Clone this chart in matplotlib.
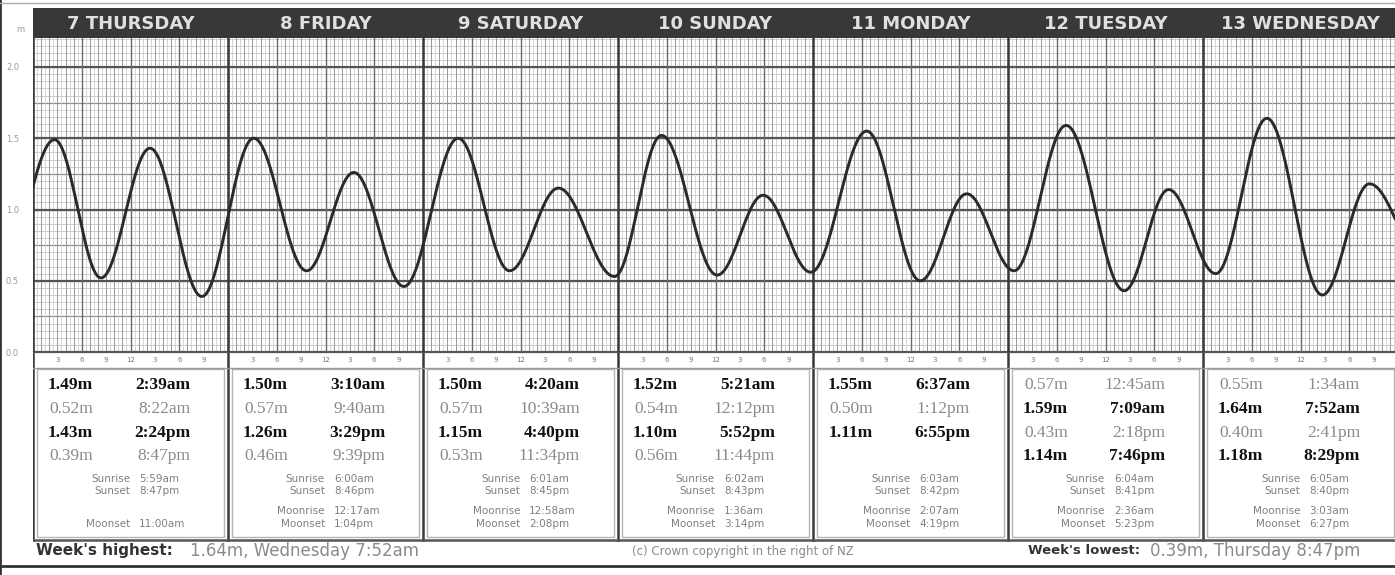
import numpy as np
import matplotlib
matplotlib.use('Agg')
import matplotlib.pyplot as plt
from matplotlib.patches import Rectangle
from matplotlib.lines import Line2D

W, H = 1395, 575
DAY_PX = 195.0          # width of one day in pixels
X0 = 33                 # left edge of the chart
M_PX = 142.5            # pixels per metre

days = ['7 THURSDAY', '8 FRIDAY', '9 SATURDAY', '10 SUNDAY',
        '11 MONDAY', '12 TUESDAY', '13 WEDNESDAY']
tide_heights = [
    [1.49, 0.52, 1.43, 0.39],
    [1.50, 0.57, 1.26, 0.46],
    [1.50, 0.57, 1.15, 0.53],
    [1.52, 0.54, 1.10, 0.56],
    [1.55, 0.50, 1.11],
    [0.57, 1.59, 0.43, 1.14],
    [0.55, 1.64, 0.40, 1.18],
]
tide_times = [
    ['2:39am', '8:22am', '2:24pm', '8:47pm'],
    ['3:10am', '9:40am', '3:29pm', '9:39pm'],
    ['4:20am', '10:39am', '4:40pm', '11:34pm'],
    ['5:21am', '12:12pm', '5:52pm', '11:44pm'],
    ['6:37am', '1:12pm', '6:55pm'],
    ['12:45am', '7:09am', '2:18pm', '7:46pm'],
    ['1:34am', '7:52am', '2:41pm', '8:29pm'],
]
# tides just before / after the week so the curve reaches both edges
prev_tide = (-1, '7:30pm', 0.40)
next_tide = (7, '3:30am', 0.60)

sunrise = ['5:59am', '6:00am', '6:01am', '6:02am', '6:03am', '6:04am', '6:05am']
sunset = ['8:47pm', '8:46pm', '8:45pm', '8:43pm', '8:42pm', '8:41pm', '8:40pm']
moonrise = ['', '12:17am', '12:58am', '1:36am', '2:07am', '2:36am', '3:03am']
moonset = ['11:00am', '1:04pm', '2:08pm', '3:14pm', '4:19pm', '5:23pm', '6:27pm']

y_ticks = [0.0, 0.5, 1.0, 1.5, 2.0]
copyright_txt = '(c) Crown copyright in the right of NZ'


def to_hours(s):
    hh, rest = s.split(':')
    return int(hh) % 12 + (12 if rest.endswith('pm') else 0) + int(rest[:2]) / 60.0


# event list in hours from Thursday 00:00
ev_t = [prev_tide[0] * 24 + to_hours(prev_tide[1])]
ev_h = [prev_tide[2]]
for d in range(len(days)):
    for tm, hg in zip(tide_times[d], tide_heights[d]):
        ev_t.append(d * 24 + to_hours(tm))
        ev_h.append(hg)
ev_t.append(next_tide[0] * 24 + to_hours(next_tide[1]))
ev_h.append(next_tide[2])
ev_t = np.array(ev_t)
ev_h = np.array(ev_h)

xmax = (W - X0) / DAY_PX * 24
ymax = (352 - 38) / M_PX
t = np.linspace(0, xmax, 4000)
idx = np.clip(np.searchsorted(ev_t, t) - 1, 0, len(ev_t) - 2)
frac = (t - ev_t[idx]) / (ev_t[idx + 1] - ev_t[idx])
curve = ev_h[idx] + (ev_h[idx + 1] - ev_h[idx]) * (1 - np.cos(np.pi * frac)) / 2

fig = plt.figure(figsize=(W / 100, H / 100), dpi=100)
fig.patch.set_facecolor('white')


def fbox(x, y, w, h):
    return [x / W, 1 - (y + h) / H, w / W, h / H]


# ---- main tide grid
ax = fig.add_axes(fbox(X0, 38, W - X0, 352 - 38))
ax.set_xlim(0, xmax)
ax.set_ylim(0, ymax)
for v in np.arange(0, ymax, 0.05):
    ax.axhline(v, color='#c4c4c4', lw=0.6, zorder=1)
for v in np.arange(0, ymax, 0.25):
    ax.axhline(v, color='#8a8a8a', lw=0.9, zorder=1)
for v in y_ticks:
    ax.axhline(v, color='#555555', lw=1.6, zorder=2)
for hr in np.arange(0, xmax, 0.5):
    ax.axvline(hr, color='#d0d0d0', lw=0.6, zorder=1)
for hr in np.arange(0, xmax, 1):
    ax.axvline(hr, color='#9a9a9a', lw=0.7, zorder=1)
for hr in np.arange(0, xmax, 6):
    ax.axvline(hr, color='#6a6a6a', lw=1.0, zorder=2)
for hr in np.arange(0, xmax, 24):
    ax.axvline(hr, color='#3a3a3a', lw=1.8, zorder=2)
ax.plot(t, curve, color='#2a2a2a', lw=2.1, zorder=5)
ax.set_xticks([])
ax.set_yticks(y_ticks)
ax.set_yticklabels(['%.1f' % v for v in y_ticks])
ax.tick_params(axis='y', length=0, pad=10, labelsize=6, labelcolor='#9a9a9a')
for s in ax.spines.values():
    s.set_visible(False)

# ---- header band with day names
hdr = fig.add_axes(fbox(X0, 8, W - X0, 30))
hdr.set_xlim(0, xmax)
hdr.set_ylim(0, 1)
hdr.set_facecolor('#383838')
hdr.set_xticks([])
hdr.set_yticks([])
for s in hdr.spines.values():
    s.set_visible(False)
for d, name in enumerate(days):
    hdr.text(d * 24 + 12, 0.48, name, color='#e0e0e0', fontsize=13,
             fontweight='bold', ha='center', va='center')
fig.text(20 / W, 1 - 30 / H, 'm', fontsize=6, color='#9a9a9a', ha='center', va='center')

# ---- hour labels and the table of tide times
tbl = fig.add_axes(fbox(X0, 352, W - X0, 542 - 352))
tbl.set_xlim(0, xmax)
tbl.set_ylim(542, 352)
tbl.axis('off')
px = 24 / DAY_PX
for d in range(len(days)):
    for hr in range(3, 24, 3):
        lab = str(hr if hr <= 12 else hr - 12)
        tbl.text(d * 24 + hr, 360, lab, fontsize=5, color='#777777',
                 ha='center', va='center')
    # cell frame
    tbl.add_patch(Rectangle((d * 24 + 4 * px, 369), DAY_PX * px - 8 * px, 168,
                            fill=False, ec='#b5b5b5', lw=1.0))
    tbl.plot([d * 24, d * 24], [352, 541], color='#3a3a3a', lw=1.8)
    rows = [385, 409, 433, 456]
    for r, (tm, hg) in enumerate(zip(tide_times[d], tide_heights[d])):
        g = d * 24 + to_hours(tm)
        j = int(np.argmin(np.abs(ev_t - g)))
        is_high = ev_h[j] > ev_h[j - 1]
        kw = dict(fontsize=12.5, family='Liberation Serif', va='center', ha='right')
        if is_high:
            kw.update(fontweight='bold', color='#111111')
        else:
            kw.update(color='#8a8a8a')
        tbl.text(d * 24 + 60 * px, rows[r], '%.2fm' % hg, **kw)
        tbl.text(d * 24 + 157 * px, rows[r], tm, **kw)
    small = dict(fontsize=7.5, color='#808080', va='center')
    sm_rows = [('Sunrise', sunrise[d], 479), ('Sunset', sunset[d], 491),
               ('Moonrise', moonrise[d], 511), ('Moonset', moonset[d], 524)]
    for lab, val, yy in sm_rows:
        if not val:
            continue
        tbl.text(d * 24 + 97 * px, yy, lab, ha='right', **small)
        tbl.text(d * 24 + 106 * px, yy, val, ha='left', **small)
tbl.plot([0, xmax], [352, 352], color='#555555', lw=1.6)
tbl.plot([0, xmax], [368, 368], color='#9a9a9a', lw=1.0)
tbl.plot([0, xmax], [540, 540], color='#555555', lw=1.8)

# ---- footer
hi = int(np.argmax(ev_h[1:-1])) + 1
lo = int(np.argmin(ev_h[1:-1])) + 1


def describe(i):
    d = int(ev_t[i] // 24)
    name = days[d].split(' ')[1].title()
    pos = sum(len(x) for x in tide_times[:d])
    tm = tide_times[d][i - 1 - pos]
    return '%.2fm, %s %s' % (ev_h[i], name, tm)


fy = 1 - 551 / H
fig.text(36 / W, fy, "Week's highest:", fontsize=11, fontweight='bold', color='#333333', va='center')
fig.text(190 / W, fy, describe(hi), fontsize=12, color='#8a8a8a', va='center')
fig.text(743 / W, fy, copyright_txt, fontsize=8.5, color='#8a8a8a', va='center', ha='center')
fig.text(1028 / W, fy, "Week's lowest:", fontsize=9.5, fontweight='bold', color='#333333', va='center')
fig.text(1150 / W, fy, describe(lo), fontsize=12, color='#8a8a8a', va='center')

# ---- outer frame
fig.add_artist(Line2D([0, 0], [0, 1], transform=fig.transFigure, color='#333333', lw=2))
fig.add_artist(Line2D([0, 1], [1 - 3 / H, 1 - 3 / H], transform=fig.transFigure, color='#aaaaaa', lw=1))
fig.add_artist(Line2D([0, 1], [1 - 566 / H, 1 - 566 / H], transform=fig.transFigure, color='#333333', lw=2))

fig.savefig('out.png', dpi=100)
